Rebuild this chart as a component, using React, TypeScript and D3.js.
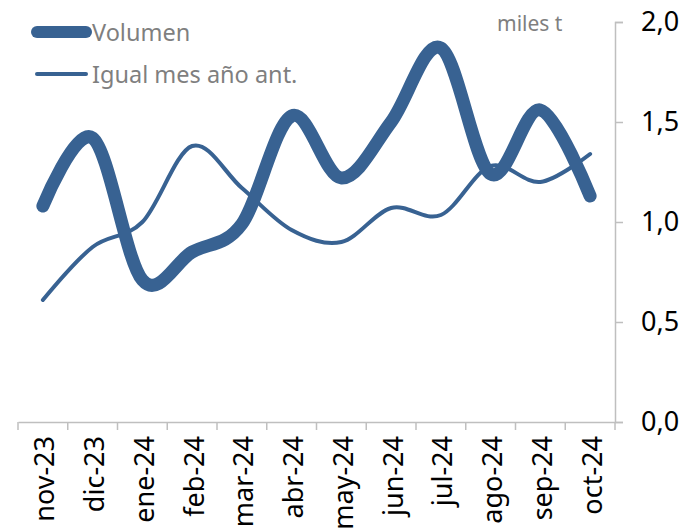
import * as d3 from "d3";
import { useEffect, useRef } from "react";

const months = ["nov-23", "dic-23", "ene-24", "feb-24", "mar-24", "abr-24", "may-24", "jun-24", "jul-24", "ago-24", "sep-24", "oct-24"];
const volumen = [1.08, 1.42, 0.71, 0.85, 0.99, 1.53, 1.22, 1.50, 1.87, 1.24, 1.56, 1.13];
const igualMes = [0.61, 0.875, 1.0, 1.38, 1.17, 0.96, 0.90, 1.07, 1.035, 1.28, 1.20, 1.34];
const yTicks = [0, 0.5, 1.0, 1.5, 2.0];
const legendNames = ["Volumen", "Igual mes año ant."];

const W = 685;
const H = 529;
const FONT = "'Noto Sans', 'Open Sans', sans-serif";
const BLUE = "#386292";
const AXIS = "#bfbfbf";

export default function App() {
  const ref = useRef<SVGSVGElement | null>(null);

  // margenes del area de trazado
  const margin = { top: 22, bottom: 107, left: 18, right: 70 };

  useEffect(() => {
    const svg = d3.select(ref.current);
    svg.selectAll("*").remove();

    const x = d3.scaleBand().domain(months).range([margin.left, W - margin.right]);
    const y = d3.scaleLinear().domain([0, 2]).range([H - margin.bottom, margin.top]);
    const cx = (d: string) => (x(d) as number) + x.bandwidth() / 2;

    // eje y a la derecha
    const yAxis = svg.append("g")
      .attr("transform", `translate(${W - margin.right}, 0)`)
      .call(d3.axisRight(y).tickValues(yTicks).tickSize(8).tickPadding(18)
        .tickFormat(d => d3.format(".1f")(d as number).replace(".", ",")));
    yAxis.select(".domain").attr("stroke", AXIS).attr("stroke-width", 1.5);
    yAxis.selectAll(".tick line").attr("stroke", AXIS).attr("stroke-width", 1.5);
    yAxis.selectAll("text")
      .attr("font-family", FONT).attr("font-size", 27).attr("fill", "#000");

    // eje x abajo
    const xAxis = svg.append("g")
      .attr("transform", `translate(0, ${H - margin.bottom})`)
      .call(d3.axisBottom(x).tickSize(0).tickPadding(0));
    xAxis.select(".domain").attr("stroke", AXIS).attr("stroke-width", 1.5);
    xAxis.selectAll("text")
      .attr("font-family", FONT).attr("font-size", 27).attr("fill", "#000")
      .attr("text-anchor", "end")
      .attr("dominant-baseline", "central")
      .attr("dy", null)
      .attr("y", 0)
      .attr("transform", "translate(1, 14) rotate(-90)");

    // marcas entre categorias
    const bounds = months.map(m => x(m) as number).concat([W - margin.right]);
    xAxis.selectAll(".sep")
      .data(bounds)
      .enter()
      .append("line")
      .attr("class", "sep")
      .attr("x1", d => d).attr("x2", d => d)
      .attr("y1", 0).attr("y2", 8)
      .attr("stroke", AXIS).attr("stroke-width", 1.5);

    const line = d3.line<number>()
      .x((_, i) => cx(months[i]))
      .y(d => y(d))
      .curve(d3.curveCardinal.tension(0));

    svg.append("path")
      .datum(igualMes)
      .attr("d", line)
      .attr("fill", "none")
      .attr("stroke", BLUE)
      .attr("stroke-width", 4)
      .attr("stroke-linecap", "round")
      .attr("stroke-linejoin", "round");

    svg.append("path")
      .datum(volumen)
      .attr("d", line)
      .attr("fill", "none")
      .attr("stroke", BLUE)
      .attr("stroke-width", 13)
      .attr("stroke-linecap", "round")
      .attr("stroke-linejoin", "round");

    // leyenda
    const legend = svg.append("g");
    const lw = [12, 4];
    legendNames.forEach((name, i) => {
      const ly = 32 + i * 42;
      legend.append("line")
        .attr("x1", 37).attr("x2", 86)
        .attr("y1", ly).attr("y2", ly)
        .attr("stroke", BLUE).attr("stroke-width", lw[i])
        .attr("stroke-linecap", "round");
      legend.append("text")
        .attr("x", 92).attr("y", ly)
        .attr("dominant-baseline", "central")
        .attr("font-family", FONT).attr("font-size", 23.5)
        .attr("fill", "#7f7f7f")
        .text(name);
    });

    svg.append("text")
      .attr("x", 497).attr("y", 23)
      .attr("dominant-baseline", "central")
      .attr("font-family", FONT).attr("font-size", 21)
      .attr("fill", "#7f7f7f")
      .text("miles t");
  }, []);

  return (
    <svg ref={ref} width={W} height={H}
      style={{ position: "absolute", left: 0, top: 0, background: "#fff" }} />
  );
}
